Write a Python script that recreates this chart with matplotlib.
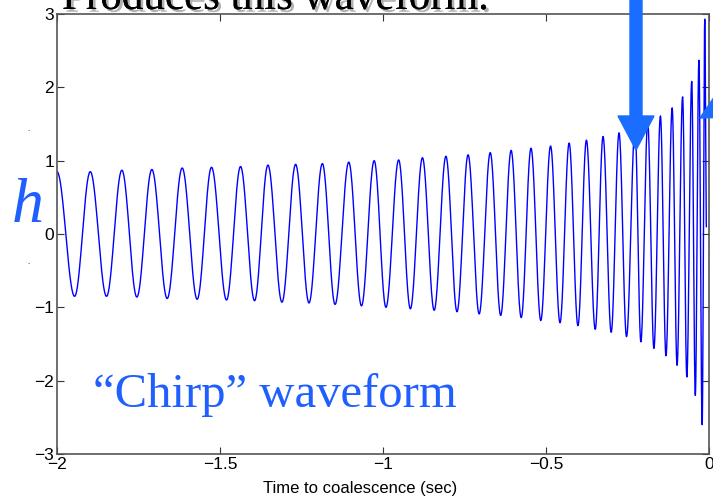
import numpy as np
import matplotlib.pyplot as plt
from matplotlib import patheffects as pe

# extrema of the waveform (time in sec, strain h)
max_t = [-2.000, -1.898, -1.801, -1.709, -1.616, -1.526, -1.437, -1.353,
         -1.268, -1.186, -1.105, -1.027, -0.952, -0.879, -0.807, -0.739,
         -0.671, -0.607, -0.546, -0.486, -0.429, -0.376, -0.325, -0.276,
         -0.227, -0.188, -0.149, -0.113, -0.081, -0.053, -0.031, -0.013]
max_h = [0.85, 0.85, 0.87, 0.88, 0.90, 0.91, 0.92, 0.94,
         0.95, 0.96, 0.98, 1.00, 1.01, 1.04, 1.06, 1.08,
         1.11, 1.14, 1.17, 1.20, 1.24, 1.28, 1.33, 1.38,
         1.44, 1.52, 1.61, 1.72, 1.87, 2.08, 2.37, 2.93]
min_t = [-1.946, -1.848, -1.755, -1.662, -1.570, -1.480, -1.394, -1.310,
         -1.227, -1.147, -1.066, -0.991, -0.916, -0.843, -0.773, -0.705,
         -0.639, -0.576, -0.516, -0.457, -0.402, -0.349, -0.300, -0.253,
         -0.209, -0.169, -0.132, -0.098, -0.068, -0.042, -0.021]
min_h = [-0.85, -0.85, -0.86, -0.88, -0.89, -0.90, -0.91, -0.93,
         -0.94, -0.96, -0.98, -1.00, -1.02, -1.04, -1.06, -1.09,
         -1.11, -1.14, -1.18, -1.21, -1.25, -1.30, -1.34, -1.40,
         -1.47, -1.56, -1.66, -1.79, -1.95, -2.20, -2.60]
end_t, end_h = -0.008, 0.1

xticks = [-2, -1.5, -1, -0.5, 0]
yticks = [-3, -2, -1, 0, 1, 2, 3]

# put extrema in time order
ext_t = []
ext_h = []
for i in range(len(max_t)):
    ext_t.append(max_t[i])
    ext_h.append(max_h[i])
    if i < len(min_t):
        ext_t.append(min_t[i])
        ext_h.append(min_h[i])
ext_t.append(end_t)
ext_h.append(end_h)

# half-cosine between neighbouring extrema so the line looks like a wave
t_all, h_all = [], []
for i in range(len(ext_t) - 1):
    s = np.linspace(0, 1, 40, endpoint=False)
    t_all.extend(ext_t[i] + (ext_t[i + 1] - ext_t[i]) * s)
    h0, h1 = ext_h[i], ext_h[i + 1]
    h_all.extend((h0 + h1) / 2 + (h0 - h1) / 2 * np.cos(np.pi * s))
t_all.append(ext_t[-1])
h_all.append(ext_h[-1])

fig = plt.figure(figsize=(7.13, 4.99), dpi=100)
ax = fig.add_axes([57 / 713, 45 / 499, 652 / 713, 440 / 499])
ax.plot(t_all, h_all, color='#0000ff', lw=1.0)

ax.set_xlim(-2, 0)
ax.set_ylim(-3, 3)
ax.set_xticks(xticks)
ax.set_yticks(yticks)
ax.set_xticklabels(['\u22122', '\u22121.5', '\u22121', '\u22120.5', '0'])
ax.set_yticklabels(['\u22123', '\u22122', '\u22121', '0', '1', '2', '3'])
ax.tick_params(direction='in', length=5, top=True, right=True,
               labelsize=12.5, colors='#333333', labelcolor='black', pad=2)
for sp in ax.spines.values():
    sp.set_color('#555555')
    sp.set_linewidth(1.2)
for lab in ax.get_xticklabels() + ax.get_yticklabels():
    lab.set_family('Liberation Sans')
ax.set_xlabel('Time to coalescence (sec)', fontsize=12,
              family='Liberation Sans')
ax.xaxis.set_label_coords((360 - 57) / 652, -(488 - 454) / 440)
ax.xaxis.label.set_va('center')

# slide overlays
blue_txt = '#1f5fff'
blue_arrow = '#1a6dff'
fig.text(62 / 713, 1 - 9 / 499, 'Produces this waveform.', fontsize=31,
         family='Liberation Serif', color='black', va='baseline',
         path_effects=[pe.withSimplePatchShadow(offset=(2, -2), alpha=0.3),
                       pe.Normal()])
fig.text(12 / 713, 1 - 222 / 499, 'h', fontsize=46, style='italic',
         family='Liberation Serif', color=blue_txt, va='baseline')
fig.text(93 / 713, 1 - 407 / 499, '\u201cChirp\u201d waveform', fontsize=35,
         family='Liberation Serif', color=blue_txt, va='baseline')
fig.text(27 / 713, 1 - 131 / 499, '.', fontsize=5, color='black')
fig.text(27 / 713, 1 - 264 / 499, '.', fontsize=5, color='black')

fig.patches.append(plt.matplotlib.patches.FancyArrow(
    636 / 713, 1.0, 0, -(150 - 0) / 499, width=12 / 713,
    head_width=36 / 713, head_length=34 / 499, length_includes_head=True,
    color=blue_arrow, transform=fig.transFigure, figure=fig))
fig.patches.append(plt.matplotlib.patches.FancyArrow(
    760 / 713, 1 - 90 / 499, -60 / 713, -28 / 499, width=12 / 713,
    head_width=36 / 713, head_length=30 / 713, length_includes_head=True,
    color=blue_arrow, transform=fig.transFigure, figure=fig))

fig.savefig('out.png', dpi=100)
